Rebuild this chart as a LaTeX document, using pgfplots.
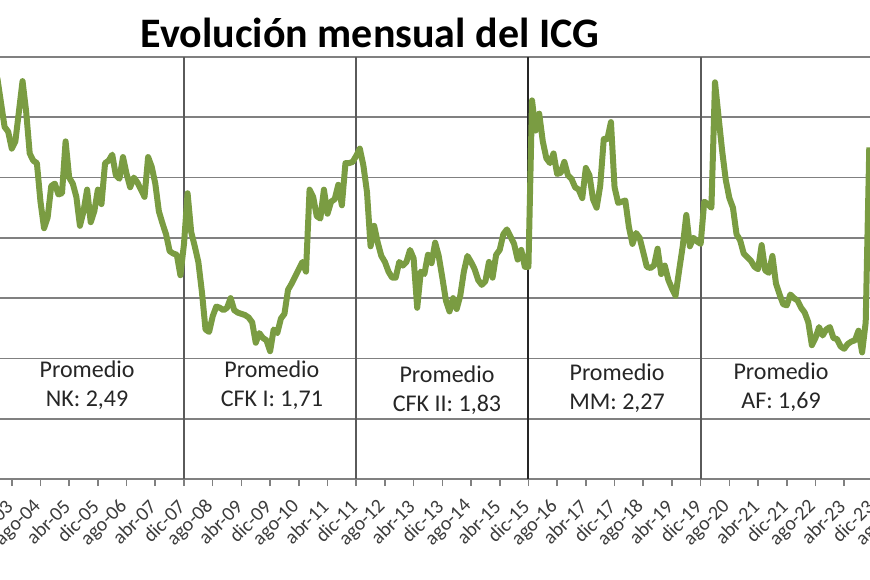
\documentclass[border=0pt]{standalone}
\usepackage{pgfplots}
\pgfplotsset{compat=1.18}
\usepackage{fontspec}
\setmainfont{Carlito}
\definecolor{icg}{RGB}{122,156,66}
\definecolor{grd}{RGB}{128,128,128}
\definecolor{sep}{RGB}{90,90,90}
\definecolor{lbl}{RGB}{60,60,60}

% ICG mensual, mes 0 = ene-03
\pgfplotstableread{
m v
5 3.30
6 3.38
7 3.32
8 3.12
9 2.92
10 2.88
11 2.74
12 2.80
13 3.05
14 3.30
15 3.05
16 2.70
17 2.64
18 2.62
19 2.30
20 2.08
21 2.17
22 2.43
23 2.45
24 2.36
25 2.37
26 2.80
27 2.50
28 2.45
29 2.34
30 2.10
31 2.22
32 2.40
33 2.13
34 2.22
35 2.40
36 2.28
37 2.62
38 2.64
39 2.69
40 2.52
41 2.49
42 2.67
43 2.53
44 2.42
45 2.50
46 2.46
47 2.40
48 2.34
49 2.67
50 2.59
51 2.45
52 2.22
53 2.12
54 2.03
55 1.89
56 1.87
57 1.86
58 1.69
59 1.95
60 2.37
61 2.05
62 1.93
63 1.80
64 1.55
65 1.24
66 1.22
67 1.35
68 1.43
69 1.42
70 1.40
71 1.42
72 1.50
73 1.40
74 1.38
75 1.37
76 1.36
77 1.34
78 1.30
79 1.13
80 1.21
81 1.17
82 1.15
83 1.06
84 1.24
85 1.21
86 1.33
87 1.37
88 1.57
89 1.62
90 1.68
91 1.74
92 1.80
93 1.72
94 2.40
95 2.34
96 2.18
97 2.16
98 2.40
99 2.20
100 2.30
101 2.32
102 2.44
103 2.27
104 2.62
105 2.62
106 2.63
107 2.68
108 2.74
109 2.60
110 2.38
111 1.93
112 2.10
113 1.96
114 1.85
115 1.80
116 1.72
117 1.67
118 1.67
119 1.80
120 1.77
121 1.80
122 1.90
123 1.83
124 1.42
125 1.72
126 1.70
127 1.86
128 1.79
129 1.96
130 1.85
131 1.67
132 1.48
133 1.39
134 1.50
135 1.41
136 1.52
137 1.72
138 1.85
139 1.80
140 1.74
141 1.65
142 1.61
143 1.64
144 1.80
145 1.67
146 1.86
147 1.90
148 2.03
149 2.07
150 2.01
151 1.95
152 1.82
153 1.90
154 1.76
155 1.76
156 3.14
157 2.89
158 3.03
159 2.80
160 2.66
161 2.62
162 2.70
163 2.53
164 2.54
165 2.63
166 2.52
167 2.49
168 2.42
169 2.40
170 2.33
171 2.58
172 2.52
173 2.32
174 2.25
175 2.43
176 2.82
177 2.82
178 2.96
179 2.42
180 2.29
181 2.30
182 2.31
183 2.09
184 1.95
185 2.04
186 2.00
187 1.88
188 1.76
189 1.75
190 1.77
191 1.91
192 1.70
193 1.77
194 1.65
195 1.58
196 1.52
197 1.73
198 1.93
199 2.19
200 1.93
201 2.00
202 1.97
203 1.95
204 2.30
205 2.28
206 2.25
207 3.29
208 3.00
209 2.72
210 2.48
211 2.33
212 2.25
213 2.03
214 1.98
215 1.87
216 1.84
217 1.81
218 1.76
219 1.74
220 1.94
221 1.73
222 1.71
223 1.85
224 1.62
225 1.53
226 1.45
227 1.44
228 1.53
229 1.50
230 1.48
231 1.42
232 1.38
233 1.30
234 1.11
235 1.17
236 1.26
237 1.19
238 1.24
239 1.26
240 1.17
241 1.16
242 1.10
243 1.08
244 1.12
245 1.14
246 1.15
247 1.23
248 1.05
249 1.30
250 2.75
}\icgdata

\begin{document}
\begin{tikzpicture}
\begin{axis}[name=ax,
  scale only axis, width=918.5bp, height=422bp,
  xmin=4, xmax=260, ymin=0, ymax=3.5,
  xtick={11,19,...,259},
  xticklabels={dic-03,ago-04,abr-05,dic-05,ago-06,abr-07,dic-07,ago-08,abr-09,dic-09,ago-10,abr-11,dic-11,ago-12,abr-13,dic-13,ago-14,abr-15,dic-15,ago-16,abr-17,dic-17,ago-18,abr-19,dic-19,ago-20,abr-21,dic-21,ago-22,abr-23,dic-23,ago-24},
  xtick pos=bottom, tick align=outside, major tick length=7bp,
  ytick={0.5,1,...,3}, yticklabels={}, ytick style={draw=none},
  ymajorgrids, major grid style={grd, line width=1.6bp},
  axis line style={grd, line width=1.6bp},
  xtick style={grd, line width=1.6bp},
  xticklabel shift=15bp,
  xticklabel style={rotate=45, anchor=east, text=lbl,
    font=\fontsize{20bp}{22bp}\selectfont},
  clip mode=individual,
]
\draw[sep, line width=1.7bp] (axis cs:59,0) -- (axis cs:59,3.5);
\draw[sep, line width=1.7bp] (axis cs:107,0) -- (axis cs:107,3.5);
\draw[black!85, line width=1.9bp] (axis cs:155,0) -- (axis cs:155,3.5);
\draw[sep, line width=1.7bp] (axis cs:203,0) -- (axis cs:203,3.5);

\addplot[icg, line width=6bp, line join=round] table[x=m, y=v] {\icgdata};

\begin{scope}[every node/.style={align=center, text=black!85,
    font=\fontsize{24bp}{29bp}\selectfont}]
\node at (axis cs:32,0.775) {Promedio\\NK: 2,49};
\node at (axis cs:83.5,0.775) {Promedio\\CFK I: 1,71};
\node at (axis cs:132.3,0.738) {Promedio\\CFK II: 1,83};
\node at (axis cs:179.7,0.75) {Promedio\\MM: 2,27};
\node at (axis cs:225.4,0.759) {Promedio\\AF: 1,69};
\end{scope}
\node[font=\fontsize{42bp}{42bp}\selectfont\bfseries] at (axis cs:110.8,3.70) {Evolución mensual del ICG};
\end{axis}
\pgfresetboundingbox
\path[use as bounding box] ([shift={(13.34bp,-101bp)}]ax.south west) rectangle ([shift={(883.34bp,479bp)}]ax.south west);
\end{tikzpicture}
\end{document}
